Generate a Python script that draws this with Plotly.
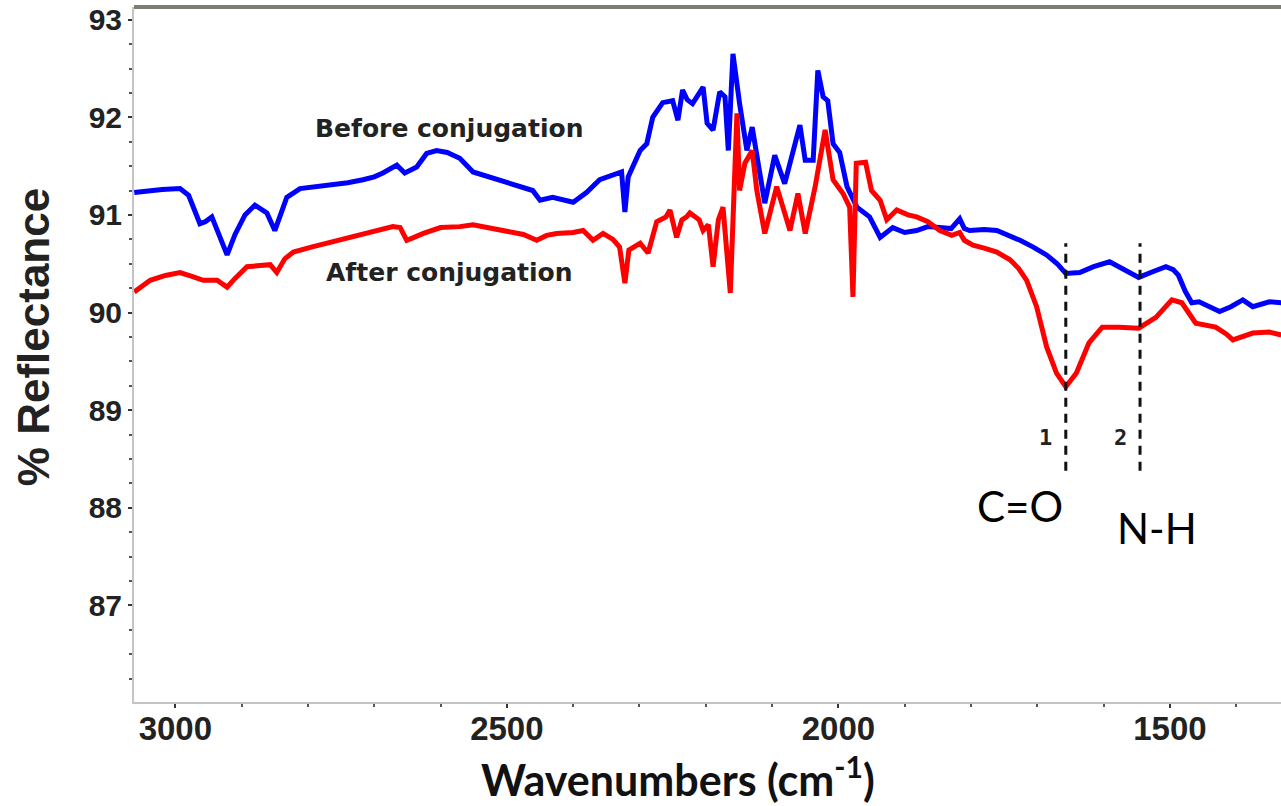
import plotly.graph_objects as go

# ---- data (wavenumber in cm-1, % reflectance) ----
before_wn = [3062, 3040, 3020, 2993, 2980, 2963, 2955, 2945, 2935, 2922, 2910, 2895, 2880, 2870,
             2862, 2850, 2840, 2832, 2812, 2790, 2767, 2740, 2717, 2700, 2687, 2666, 2654, 2636,
             2621, 2606, 2590, 2571, 2551, 2521, 2485, 2461, 2450, 2431, 2400, 2380, 2360, 2340,
             2327, 2322, 2317, 2299, 2289, 2280, 2265, 2250, 2242, 2235, 2228, 2220, 2204, 2198,
             2189, 2179, 2171, 2166, 2159, 2149, 2138, 2130, 2121, 2111, 2096, 2081, 2058, 2050,
             2038, 2031, 2023, 2016, 2008, 1998, 1987, 1972, 1953, 1937, 1918, 1900, 1882, 1865,
             1847, 1830, 1817, 1810, 1802, 1780, 1761, 1745, 1726, 1706, 1686, 1670, 1657, 1636,
             1615, 1591, 1572, 1547, 1525, 1506, 1495, 1487, 1477, 1467, 1456, 1440, 1425, 1408,
             1390, 1375, 1350, 1332]
before_val = [91.23, 91.25, 91.26, 91.27, 91.20, 90.91, 90.93, 90.98, 90.80, 90.59, 90.80, 91.00,
              91.10, 91.05, 91.02, 90.84, 91.05, 91.18, 91.27, 91.29, 91.30, 91.33, 91.36, 91.39,
              91.43, 91.51, 91.43, 91.49, 91.63, 91.66, 91.64, 91.58, 91.44, 91.38, 91.30, 91.25,
              91.15, 91.18, 91.13, 91.23, 91.36, 91.41, 91.44, 91.03, 91.39, 91.66, 91.73, 92.00,
              92.15, 92.17, 91.97, 92.28, 92.18, 92.14, 92.31, 91.94, 91.87, 92.26, 92.21, 91.66,
              92.65, 92.14, 91.66, 91.90, 91.49, 91.12, 91.61, 91.32, 91.92, 91.56, 91.56, 92.48,
              92.21, 92.17, 91.73, 91.64, 91.29, 91.08, 90.98, 90.77, 90.87, 90.82, 90.84, 90.88,
              90.87, 90.86, 90.96, 90.86, 90.84, 90.85, 90.84, 90.80, 90.74, 90.67, 90.59, 90.50,
              90.40, 90.41, 90.47, 90.52, 90.45, 90.36, 90.42, 90.47, 90.44, 90.38, 90.22, 90.10,
              90.11, 90.06, 90.01, 90.06, 90.13, 90.06, 90.11, 90.10]

after_wn = [3062, 3050, 3038, 3015, 2993, 2975, 2958, 2937, 2922, 2910, 2892, 2857, 2847, 2835,
            2822, 2795, 2767, 2740, 2717, 2690, 2672, 2661, 2651, 2640, 2626, 2600, 2571, 2551,
            2525, 2500, 2475, 2455, 2440, 2425, 2400, 2385, 2370, 2355, 2340, 2330, 2322, 2316,
            2299, 2287, 2274, 2260, 2254, 2244, 2236, 2229, 2224, 2210, 2204, 2196, 2189, 2181,
            2174, 2168, 2163, 2153, 2149, 2141, 2130, 2123, 2111, 2093, 2073, 2061, 2050, 2035,
            2020, 2008, 1993, 1983, 1978, 1973, 1959, 1950, 1937, 1927, 1912, 1895, 1882, 1865,
            1847, 1829, 1817, 1810, 1797, 1780, 1761, 1741, 1728, 1716, 1701, 1686, 1671, 1657,
            1641, 1622, 1602, 1577, 1547, 1521, 1497, 1482, 1470, 1461, 1431, 1415, 1405, 1390,
            1375, 1350, 1332]
after_val = [90.21, 90.27, 90.33, 90.38, 90.41, 90.37, 90.33, 90.33, 90.26, 90.35, 90.47, 90.49,
             90.41, 90.55, 90.62, 90.67, 90.72, 90.77, 90.81, 90.85, 90.88, 90.87, 90.74, 90.77,
             90.81, 90.87, 90.88, 90.90, 90.87, 90.84, 90.80, 90.74, 90.79, 90.81, 90.82, 90.84,
             90.74, 90.81, 90.75, 90.67, 90.30, 90.64, 90.71, 90.61, 90.93, 90.98, 91.05, 90.77,
             90.95, 90.98, 91.02, 90.95, 90.84, 90.90, 90.47, 90.95, 91.08, 90.60, 90.20, 92.04,
             91.25, 91.53, 91.66, 91.25, 90.81, 91.29, 90.84, 91.22, 90.81, 91.29, 91.87, 91.36,
             91.22, 91.08, 90.16, 91.53, 91.54, 91.25, 91.15, 90.95, 91.05, 91.00, 90.98, 90.93,
             90.84, 90.79, 90.82, 90.74, 90.69, 90.66, 90.62, 90.54, 90.45, 90.33, 90.06, 89.65,
             89.38, 89.24, 89.38, 89.69, 89.85, 89.85, 89.84, 89.95, 90.13, 90.10, 89.98, 89.89,
             89.85, 89.78, 89.72, 89.76, 89.79, 89.80, 89.77]

marker_wn = [1657, 1545]          # dashed reference lines (1 = C=O, 2 = N-H)
marker_num = ["1", "2"]
marker_group = ["C=O", "N-H"]

x_ticks = [3000, 2500, 2000, 1500]
y_ticks = [87, 88, 89, 90, 91, 92, 93]

fig = go.Figure()
fig.add_trace(go.Scatter(x=before_wn, y=before_val, mode="lines",
                         line=dict(color="#0000ff", width=5), name="Before conjugation"))
fig.add_trace(go.Scatter(x=after_wn, y=after_val, mode="lines",
                         line=dict(color="#ff0000", width=5), name="After conjugation"))

for wn in marker_wn:
    fig.add_shape(type="line", x0=wn, x1=wn, y0=88.38, y1=90.71, xref="x", yref="y",
                  line=dict(color="#111111", width=3, dash="9px,7px"))

lab_font = dict(family="DejaVu Sans", size=25, color="#222222", weight="bold")
fig.add_annotation(x=2587, y=91.89, text="Before conjugation", showarrow=False, font=lab_font)
fig.add_annotation(x=2587, y=90.41, text="After conjugation", showarrow=False, font=lab_font)

num_font = dict(family="DejaVu Sans Mono", size=22, color="#222222", weight="bold")
fig.add_annotation(x=1688, y=88.72, text=marker_num[0], showarrow=False, font=num_font)
fig.add_annotation(x=1575, y=88.72, text=marker_num[1], showarrow=False, font=num_font)

grp_font = dict(family="Lato", size=42, color="#000000")
fig.add_annotation(x=1726, y=88.02, text=marker_group[0], showarrow=False, font=grp_font)
fig.add_annotation(x=1519, y=87.79, text=marker_group[1], showarrow=False, font=grp_font)

# axis titles
fig.add_annotation(xref="paper", yref="paper", x=-0.088, y=0.525, textangle=-90,
                   xanchor="center", yanchor="middle",
                   text="% Reflectance", showarrow=False,
                   font=dict(family="Liberation Sans", size=44, color="#222222", weight="bold"))
fig.add_annotation(xref="paper", yref="paper", x=0.474, y=0, yshift=-74,
                   xanchor="center", yanchor="middle",
                   text="Wavenumbers (cm<sup>-1</sup>)", showarrow=False,
                   font=dict(family="Lato", size=43, color="#111111", weight="bold"))

# top border
fig.add_shape(type="line", xref="paper", yref="paper", x0=0, x1=1, y0=1, y1=1,
              line=dict(color="#7d7d75", width=4))

fig.update_layout(
    width=1281, height=806,
    margin=dict(l=134, r=0, t=7, b=104),
    paper_bgcolor="white", plot_bgcolor="white",
    showlegend=False,
)
fig.update_xaxes(range=[3062.4, 1332.4], tickvals=x_ticks, showgrid=False, zeroline=False,
                 showline=True, linecolor="#c4c4c4", linewidth=2,
                 ticks="outside", ticklen=4, tickwidth=2, tickcolor="#333333",
                 ticklabelstandoff=-8,
                 minor=dict(dtick=100, tick0=0, ticks="outside", ticklen=3, tickwidth=2, tickcolor="#555555"),
                 tickfont=dict(family="Liberation Sans", size=33, color="#222222", weight="bold"))
fig.update_yaxes(range=[86.01, 93.13], tickvals=y_ticks, showgrid=False, zeroline=False,
                 showline=True, linecolor="#c4c4c4", linewidth=2,
                 ticks="outside", ticklen=4, tickwidth=2, tickcolor="#333333",
                 minor=dict(dtick=0.25, tick0=0, ticks="outside", ticklen=3, tickwidth=2, tickcolor="#555555"),
                 tickfont=dict(family="Liberation Sans", size=30, color="#222222", weight="bold"))

fig.write_html("out.html")
